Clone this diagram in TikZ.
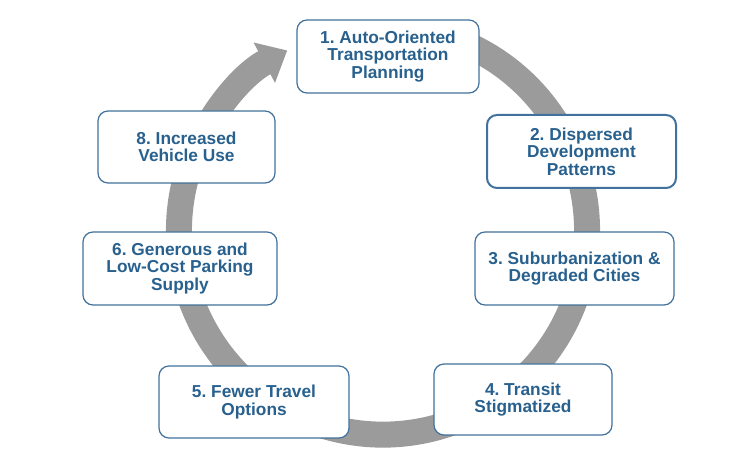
\documentclass[tikz,border=0pt]{standalone}
\usepackage{fontspec}
\setmainfont{Liberation Sans}
\usepackage{xcolor}
\usepackage{tikz}
\usetikzlibrary{arrows.meta}

\definecolor{boxblue}{RGB}{65,113,156}
\definecolor{textblue}{RGB}{40,96,142}
\definecolor{ringgray}{RGB}{155,155,155}
\frenchspacing

\begin{document}
\begin{tikzpicture}[x=1pt,y=1pt,
    box/.style={draw=boxblue,line width=1.2pt,fill=white,rounded corners=10pt,
      text=textblue,font=\fontsize{17.3}{17.6}\selectfont\bfseries,align=center,
      minimum height=73pt,inner sep=0pt},
    ring/.style={draw=ringgray,line width=26pt,-{Triangle[width=44pt,length=26pt]}}]
  \useasboundingbox (0,0) rectangle (738,465);
  \coordinate (hub) at (383,234.4);
  \draw[ring] (hub) ++(70:204pt) arc[start angle=70,end angle=-242,radius=204pt];

  \node[box,minimum width=182pt] (plan) at (388,408.5) {1. Auto-Oriented\\Transportation\\Planning};
  \node[box,minimum width=189pt,line width=2pt] (disp) at (581.5,313.5) {2. Dispersed\\Development\\Patterns};
  \node[box,minimum width=199pt] (suburb) at (574.5,196.5) {3. Suburbanization \&\\Degraded Cities};
  \node[box,minimum width=178pt,minimum height=71pt] (transit) at (523,65.5) {4. Transit\\Stigmatized};
  \node[box,minimum width=190pt,minimum height=72pt] (fewer) at (254,63) {5. Fewer Travel\\Options};
  \node[box,minimum width=194pt] (parking) at (180,196.5) {6. Generous and\\Low-Cost Parking\\Supply};
  \node[box,minimum width=177pt,minimum height=72pt] (vehicle) at (186.5,318) {8. Increased\\Vehicle Use};
\end{tikzpicture}
\end{document}
